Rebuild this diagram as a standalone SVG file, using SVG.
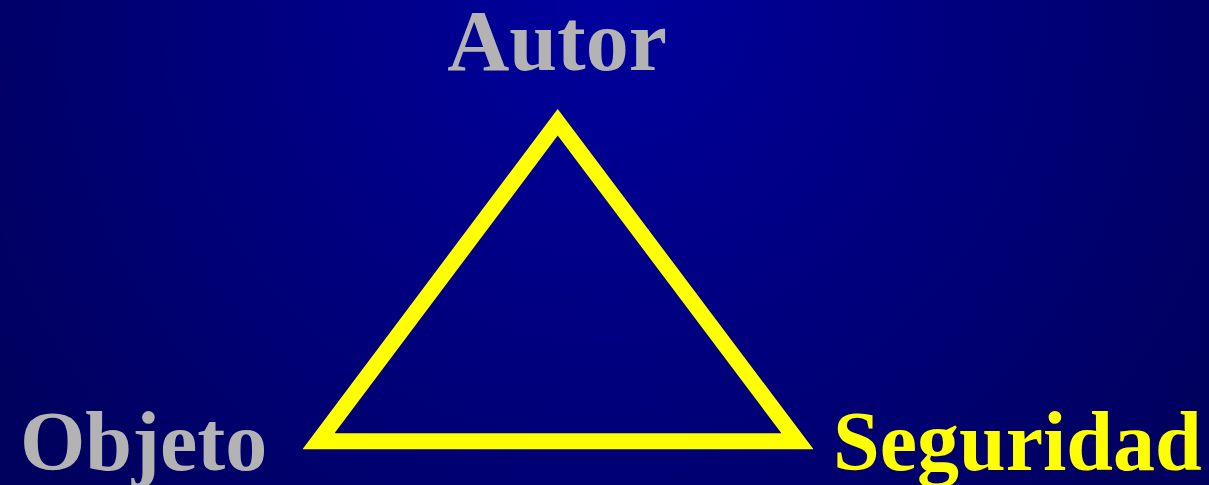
<svg xmlns="http://www.w3.org/2000/svg" width="1209" height="485" viewBox="0 0 1209 485">
  <defs>
    <radialGradient id="bg" gradientUnits="userSpaceOnUse" cx="604" cy="0" r="720" fx="604" fy="0">
      <stop offset="0" stop-color="#00009E"/>
      <stop offset="1" stop-color="#00005E"/>
    </radialGradient>
  </defs>
  <style>
    .lbl { font-family: "Liberation Serif", "Times New Roman", serif; font-weight: bold; font-size: 84px; }
    .gray { fill: #B3B3B3; }
    .yellow { fill: #FFFF00; }
    .tri { fill: none; stroke: #FFFF00; stroke-width: 16; stroke-linejoin: miter; stroke-miterlimit: 10; }
  </style>
  <rect x="0" y="0" width="1209" height="485" fill="url(#bg)"/>
  <g id="connectors">
    <polygon class="tri" points="557.7,122.3 318.5,441.3 797.5,441.3"/>
  </g>
  <g id="node-autor">
    <text class="lbl gray" x="557" y="70" text-anchor="middle" style="font-size:86px">Autor</text>
  </g>
  <g id="node-objeto">
    <text class="lbl gray" x="20" y="470">Objeto</text>
  </g>
  <g id="node-seguridad">
    <text class="lbl yellow" x="833" y="470">Seguridad</text>
  </g>
</svg>
